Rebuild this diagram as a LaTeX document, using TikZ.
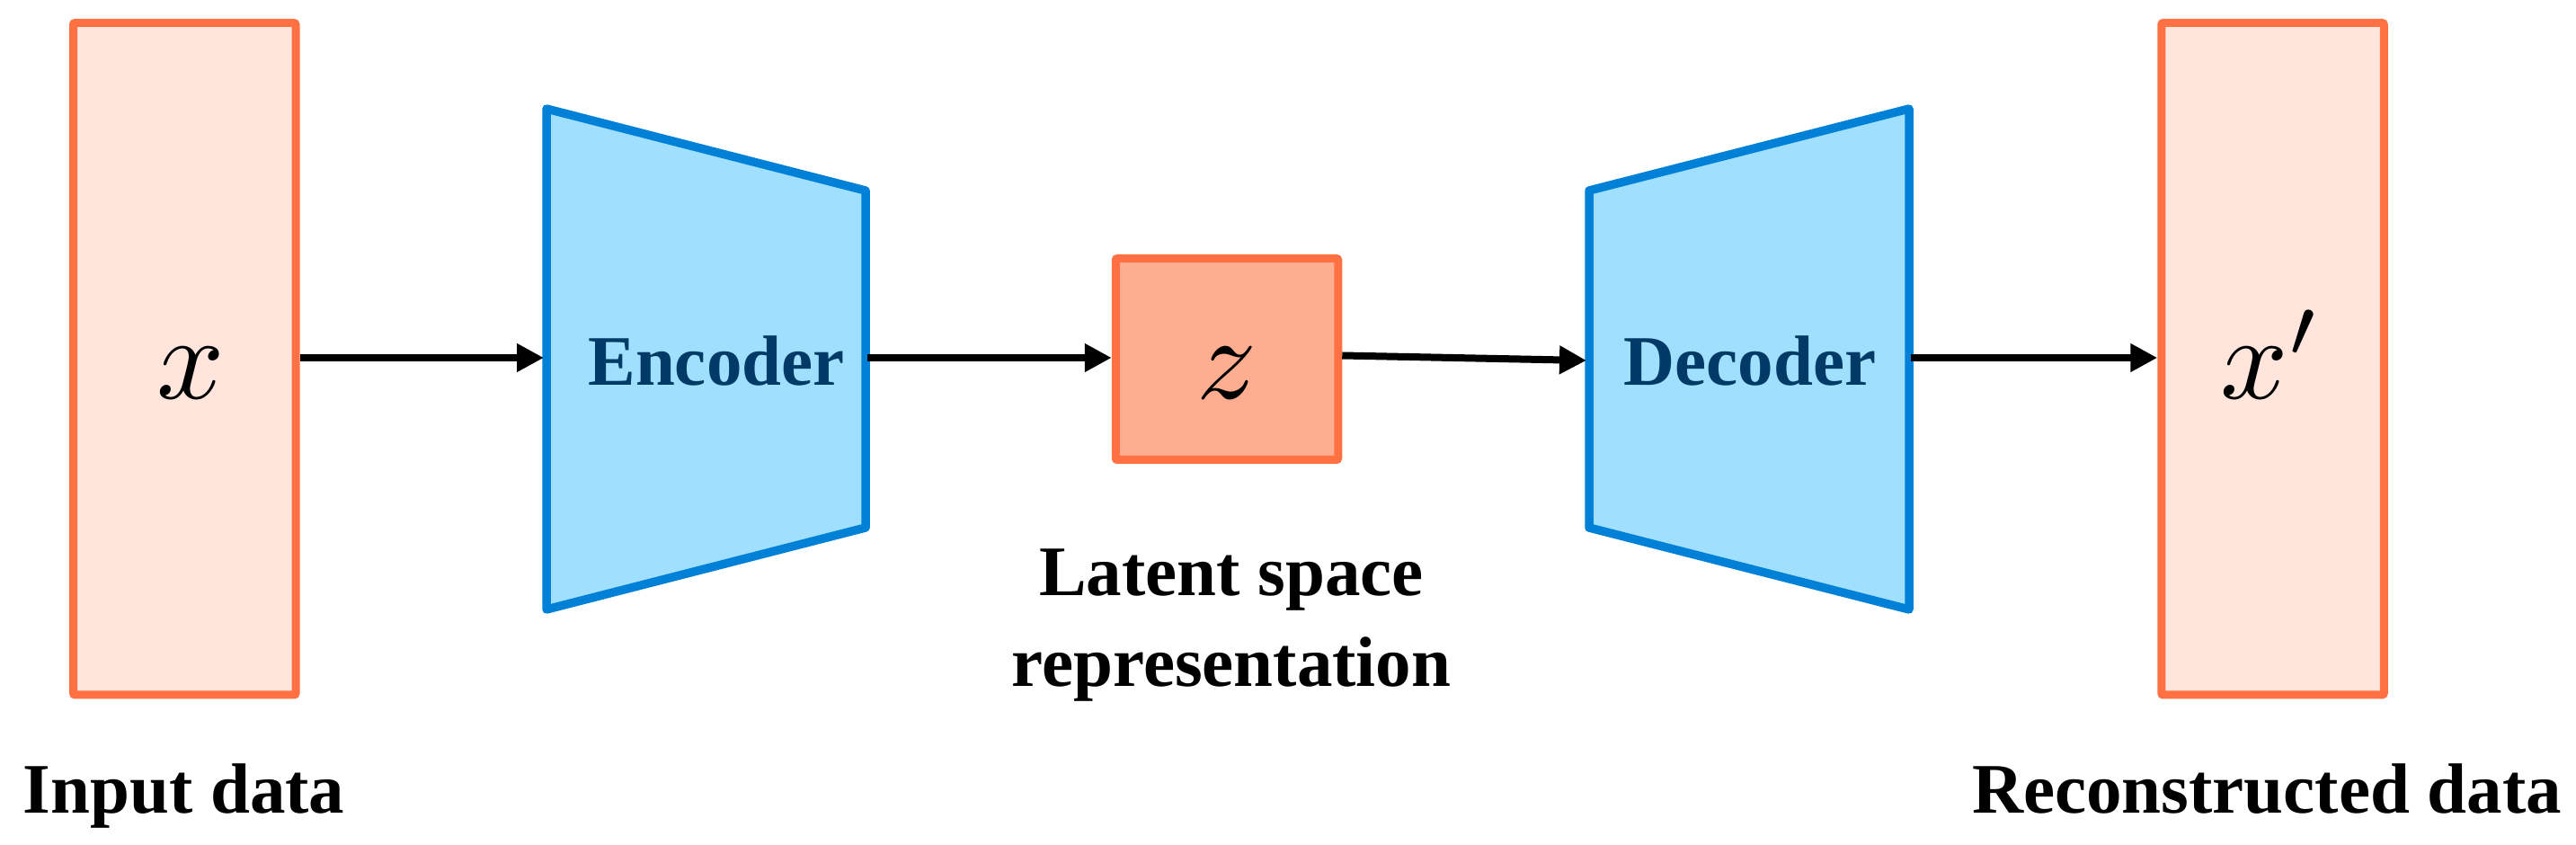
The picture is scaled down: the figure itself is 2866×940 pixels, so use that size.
\documentclass[tikz,border=0pt]{standalone}
\usepackage{graphicx}
\usepackage{fontspec}
\setmainfont{Liberation Serif}
\usetikzlibrary{arrows.meta}
\definecolor{orangeS}{RGB}{255,112,67}
\definecolor{pinkF}{RGB}{255,229,220}
\definecolor{salmonF}{RGB}{255,173,145}
\definecolor{blueF}{RGB}{160,223,253}
\definecolor{blueS}{RGB}{0,128,214}
\definecolor{navyT}{RGB}{0,58,102}
\newcommand{\bigmath}[1]{\scalebox{6.6}{$#1$}}
\tikzset{
  databox/.style={draw=orangeS, fill=pinkF, line width=4.5pt, rounded corners=1pt, inner sep=0pt, minimum width=123.75pt, minimum height=373.75pt},
  latentbox/.style={draw=orangeS, fill=salmonF, line width=4.5pt, rounded corners=1pt, inner sep=0pt, minimum width=123.75pt, minimum height=112pt},
  netshape/.style={draw=blueS, fill=blueF, line width=4.75pt, line join=round},
  nettext/.style={font=\fontsize{39.5}{47}\selectfont\bfseries, text=navyT, anchor=base, inner sep=0pt},
  captext/.style={font=\fontsize{39.5}{50.5}\selectfont\bfseries, text=black, anchor=base, inner sep=0pt, align=center},
  mathtext/.style={anchor=base, inner sep=0pt},
  flow/.style={line width=4pt, -{Triangle[length=15pt,width=15pt]}}
}
\begin{document}
\begin{tikzpicture}[x=0.5pt, y=-0.5pt]
\useasboundingbox (0,0) rectangle (2866,940);
% data boxes
\node[databox] (in) at (205.25,399.25) {};
\node[databox] (out) at (2528.5,399.25) {};
\node[latentbox] (z) at (1365,399.5) {};
% encoder / decoder trapezoids
\coordinate (encTL) at (608,121);
\coordinate (encTR) at (963,212);
\coordinate (encBR) at (963,587);
\coordinate (encBL) at (608,678);
\draw[netshape] (encTL) -- (encTR) -- (encBR) -- (encBL) -- cycle;
\coordinate (decTL) at (1768,212);
\coordinate (decTR) at (2124,121);
\coordinate (decBR) at (2124,678);
\coordinate (decBL) at (1768,587);
\draw[netshape] (decTL) -- (decTR) -- (decBR) -- (decBL) -- cycle;
\coordinate (encW) at (605,398);
\coordinate (encE) at (965,398);
\coordinate (decW) at (1765,401);
\coordinate (decE) at (2126,398);
% texts
\node[nettext] (enc) at (797,429) {Encoder};
\node[nettext] (dec) at (1947,429) {Decoder};
\node[mathtext] (xlab) at (212,444) {\bigmath{x}};
\node[mathtext] (zlab) at (1365,444) {\bigmath{z}};
\node[mathtext] (xplab) at (2527,444) {\bigmath{x'}};
\node[captext] (inlab) at (204.5,904) {Input data};
\node[captext] (outlab) at (2522,904) {Reconstructed data};
\node[captext] (latlab) at (1370,763) {Latent space\\representation};
% connectors
\draw[flow] (in.east |- 0,398) -- (encW);
\draw[flow] (encE) -- (z.west |- 0,398);
\draw[flow] ([yshift=2pt]z.east) -- (decW);
\draw[flow] (decE) -- (out.west |- 0,398);
\end{tikzpicture}
\end{document}
